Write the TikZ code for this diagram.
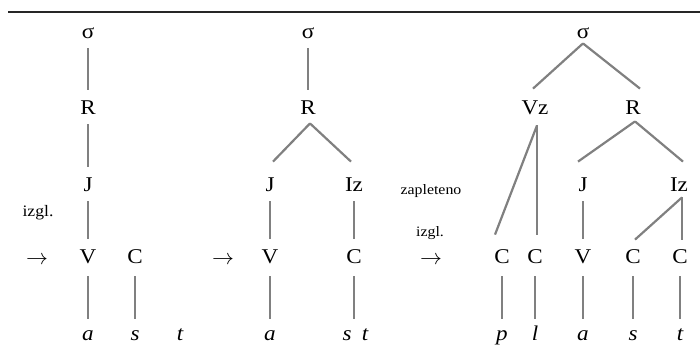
\documentclass[tikz,border=0pt]{standalone}
\usepackage{fontspec}
\setmainfont{Liberation Serif}[FakeStretch=1.1]
\definecolor{lngray}{RGB}{128,128,128}
\tikzset{
  lab/.style={inner sep=0pt, text height=6.5pt, text depth=0pt, anchor=base, font=\fontsize{10.5}{12}\selectfont},
  leaf/.style={lab, text height=4.5pt, font=\fontsize{10.5}{12}\selectfont\itshape},
  small/.style={inner sep=0pt, anchor=base, font=\fontsize{7.2}{8}\selectfont},
  smallb/.style={inner sep=0pt, anchor=base, font=\fontsize{8}{9}\selectfont},
  arr/.style={inner sep=0pt, anchor=center, font=\fontsize{11}{12}\selectfont},
  ln/.style={draw=lngray, line width=1.1pt},
}
\begin{document}
\begin{tikzpicture}[x=0.5pt,y=-0.5pt]
\useasboundingbox (0,0) rectangle (700,345);
\draw[line width=0.6pt, black!85] (8,12) -- (700,12);
% tree 1
\node[lab] (s1) at (88,38) {σ};
\node[lab] (r1) at (88,114) {R};
\node[lab] (j1) at (88,191) {J};
\node[lab] (v1) at (88,263) {V};
\node[lab] (c1) at (135,263) {C};
\node[leaf] (a1) at (88,340) {a};
\node[leaf] (sl1) at (135,340) {s};
\node[leaf] (t1) at (180,340) {t};
\node[smallb] (iz1) at (38,216) {izgl.};
\node[arr] (ar1) at (37,260) {$\rightarrow$};
% tree 2
\node[lab] (s2) at (308,38) {σ};
\node[lab] (r2) at (308,114) {R};
\node[lab] (j2) at (270,191) {J};
\node[lab] (iz2) at (354,191) {Iz};
\node[lab] (v2) at (270,263) {V};
\node[lab] (c2) at (354,263) {C};
\node[leaf] (a2) at (270,340) {a};
\node[leaf] (sl2) at (347,340) {s};
\node[leaf] (t2) at (365,340) {t};
\node[arr] (ar2) at (223,260) {$\rightarrow$};
% tree 3
\node[small] (zap) at (431,194) {zapleteno};
\node[small] (izg3) at (430,236) {izgl.};
\node[arr] (ar3) at (431,260) {$\rightarrow$};
\node[lab] (s3) at (583,38) {σ};
\node[lab] (vz) at (535,114) {Vz};
\node[lab] (r3) at (633,114) {R};
\node[lab] (j3) at (583,191) {J};
\node[lab] (iz3) at (679,191) {Iz};
\node[lab] (cp) at (502,263) {C};
\node[lab] (cl) at (535,263) {C};
\node[lab] (v3) at (583,263) {V};
\node[lab] (cs) at (633,263) {C};
\node[lab] (ct) at (680,263) {C};
\node[leaf] (p3) at (502,340) {p};
\node[leaf] (l3) at (535,340) {l};
\node[leaf] (a3) at (583,340) {a};
\node[leaf] (sl3) at (633,340) {s};
\node[leaf] (t3) at (680,340) {t};
% connectors tree 1
\draw[ln] ([yshift=-5pt]s1.south) -- ([yshift=5.5pt]r1.north);
\draw[ln] ([yshift=-5pt]r1.south) -- ([yshift=5.5pt]j1.north);
\draw[ln] ([yshift=-5pt]j1.south) -- ([yshift=5.5pt]v1.north);
\draw[ln] ([yshift=-6.5pt]v1.south) -- ([yshift=6pt]a1.north);
\draw[ln] ([yshift=-6.5pt]c1.south) -- ([yshift=6pt]sl1.north);
% connectors tree 2
\draw[ln] ([yshift=-5pt]s2.south) -- ([yshift=5.5pt]r2.north);
\draw[ln] ([xshift=1pt,yshift=-4.5pt]r2.south) -- ([xshift=1.5pt,yshift=8pt]j2.north);
\draw[ln] ([xshift=1pt,yshift=-4.5pt]r2.south) -- ([xshift=-1.5pt,yshift=8pt]iz2.north);
\draw[ln] ([yshift=-5pt]j2.south) -- ([yshift=5.5pt]v2.north);
\draw[ln] ([yshift=-5pt]iz2.south) -- ([yshift=5.5pt]c2.north);
\draw[ln] ([yshift=-6.5pt]v2.south) -- ([yshift=6pt]a2.north);
\draw[ln] ([yshift=-6.5pt]c2.south) -- ([yshift=6pt]c2.south |- t2.north);
% connectors tree 3
\draw[ln] ([yshift=-2.5pt]s3.south) -- ([xshift=-1pt,yshift=6pt]vz.north);
\draw[ln] ([yshift=-2.5pt]s3.south) -- ([xshift=3.5pt,yshift=6pt]r3.north);
\draw[ln] ([xshift=1pt,yshift=-5.5pt]vz.south) -- ([xshift=-3.5pt,yshift=7.5pt]cp.north);
\draw[ln] ([xshift=1pt,yshift=-5.5pt]vz.south) -- ([xshift=1pt,yshift=7.5pt]cl.north);
\draw[ln] ([xshift=1pt,yshift=-3.5pt]r3.south) -- ([xshift=-2.5pt,yshift=8pt]j3.north);
\draw[ln] ([xshift=1pt,yshift=-3.5pt]r3.south) -- ([xshift=2pt,yshift=8pt]iz3.north);
\draw[ln] ([yshift=-5pt]j3.south) -- ([yshift=5.5pt]v3.north);
\draw[ln] ([xshift=1.5pt,yshift=-3pt]iz3.south) -- ([xshift=1pt,yshift=5pt]cs.north);
\draw[ln] ([xshift=1.5pt,yshift=-3pt]iz3.south) -- ([xshift=1pt,yshift=5pt]ct.north);
\draw[ln] ([yshift=-6.5pt]cp.south) -- ([yshift=6pt]p3.north);
\draw[ln] ([yshift=-6.5pt]cl.south) -- ([yshift=6pt]l3.north);
\draw[ln] ([yshift=-6.5pt]v3.south) -- ([yshift=6pt]a3.north);
\draw[ln] ([yshift=-6.5pt]cs.south) -- ([yshift=6pt]sl3.north);
\draw[ln] ([yshift=-6.5pt]ct.south) -- ([yshift=6pt]t3.north);
\end{tikzpicture}
\end{document}
